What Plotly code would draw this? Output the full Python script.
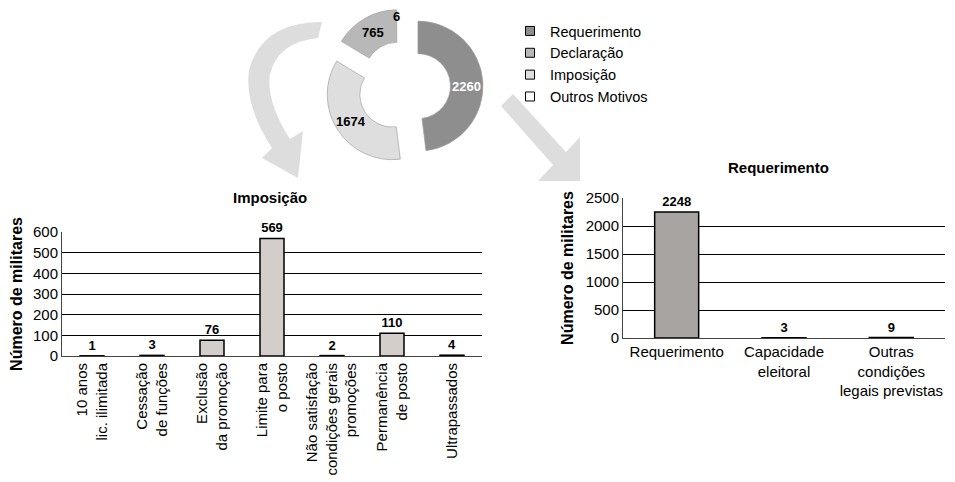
import math
import plotly.graph_objects as go

# page body adds an 8px margin, so the figure is drawn 8px in and 8px smaller
OFF = 8
W, H = 955 - OFF, 482 - OFF
FONT = "Liberation Sans"

# donut: slices in drawing order (clockwise from 12 o'clock)
pie_labels = ["Requerimento", "Imposição", "Declaração", "Outros Motivos"]
pie_values = [2260, 1674, 765, 6]
pie_colors = ["#8e8e8e", "#dedede", "#b8b8b8", "#ffffff"]
pie_textcolors = ["white", "black", "black", "black"]

# legend order as in the reference
legend_labels = ["Requerimento", "Declaração", "Imposição", "Outros Motivos"]
legend_colors = ["#8e8e8e", "#b8b8b8", "#dedede", "#ffffff"]

imp_cats = ["10 anos<br>lic. ilimitada", "Cessação<br>de funções", "Exclusão<br>da promoção",
            "Limite para<br>o posto", "Não satisfação<br>condições gerais<br>promoções",
            "Permanência<br>de posto", "Ultrapassados"]
imp_vals = [1, 3, 76, 569, 2, 110, 4]

req_cats = ["Requerimento", "Capacidade<br>eleitoral", "Outras<br>condições<br>legais previstas"]
req_vals = [2248, 3, 9]


def fx(x):
    return (x - OFF) / W


def fy(y):
    return 1 - (y - OFF) / H


def path(cmds):
    out = ""
    for c in cmds:
        if isinstance(c, str):
            out += c
        else:
            out += "%.4f,%.4f " % (fx(c[0]), fy(c[1]))
    return out + "Z"


def label(text, x, y, size):
    return dict(text=text, x=fx(x), y=fy(y), xref="paper", yref="paper",
                xanchor="center", yanchor="middle", showarrow=False,
                font=dict(family=FONT, size=size, color="black"))


fig = go.Figure()

# decorative arrows
arrow_left = path(["M", (322, 22), "Q", (262, 22), (249, 70), "Q", (244, 105), (272, 148),
                   "L", (262, 158), "L", (298, 178), "L", (303, 131), "L", (290, 139),
                   "Q", (266, 102), (270, 74), "Q", (278, 42), (318, 38)])
arrow_right = path(["M", (513, 94), "L", (566, 152), "L", (580, 137), "L", (580, 181),
                    "L", (538, 181), "L", (553, 165), "L", (501, 106)])
for p in [arrow_left, arrow_right]:
    fig.add_shape(type="path", path=p, xref="paper", yref="paper",
                  fillcolor="#dddddd", line=dict(width=0), layer="below")

# donut geometry (pixels)
pie_x0, pie_x1, pie_y0, pie_y1 = 325, 483, 8, 166
pull, hole = 0.215, 0.5
fig.add_trace(go.Pie(
    labels=pie_labels, values=pie_values, sort=False, direction="clockwise", rotation=0,
    hole=hole, pull=[pull] * 4, showlegend=False,
    marker=dict(colors=pie_colors,
                line=dict(color=["#a0a0a0", "#a0a0a0", "#a0a0a0", "white"], width=0.7)),
    textinfo="value", textposition=["inside", "none", "inside", "none"],
    insidetextorientation="horizontal",
    textfont=dict(family=FONT, size=13, color=pie_textcolors, weight="bold"),
    domain=dict(x=[fx(pie_x0), fx(pie_x1)], y=[fy(pie_y1), fy(pie_y0)]),
))

# label of the Imposição slice at its mid angle (plotly would push it to 9 o'clock)
total = sum(pie_values)
mid = 2 * math.pi * (pie_values[0] + pie_values[1] / 2) / total
cx, cy = (pie_x0 + pie_x1) / 2, (pie_y0 + pie_y1) / 2
R = (pie_y1 - pie_y0) / 2 / (1 + pull)
rr = pull * R + R * (1 + hole) / 2
imp_lx, imp_ly = cx + rr * math.sin(mid), cy - rr * math.cos(mid)

for name, col in zip(legend_labels, legend_colors):
    fig.add_trace(go.Scatter(x=[None], y=[None], mode="markers", name=name,
                             marker=dict(symbol="square", size=9, color=col,
                                         line=dict(color="black", width=1)),
                             xaxis="x", yaxis="y"))

fig.add_trace(go.Bar(
    x=imp_cats, y=imp_vals, text=imp_vals, textposition="outside", cliponaxis=False,
    constraintext="none", showlegend=False, width=0.4,
    textfont=dict(family=FONT, size=13, color="black", weight="bold"),
    marker=dict(color="#d3cec9", line=dict(color="black", width=1.5)),
    xaxis="x", yaxis="y"))

fig.add_trace(go.Bar(
    x=req_cats, y=req_vals, text=req_vals, textposition="outside", cliponaxis=False,
    constraintext="none", showlegend=False, width=0.41,
    textfont=dict(family=FONT, size=13, color="black", weight="bold"),
    marker=dict(color="#a8a4a1", line=dict(color="black", width=1.5)),
    xaxis="x2", yaxis="y2"))

axis_common = dict(showline=True, linecolor="#444444", linewidth=1, ticks="",
                   automargin=False, tickfont=dict(family=FONT, size=15, color="black"))
ytitle = dict(text="<b>Número de militares</b>", standoff=8, font=dict(family=FONT, size=16))

fig.update_layout(
    width=W, height=H,
    margin=dict(l=0, r=0, t=0, b=0, autoexpand=False),
    paper_bgcolor="white", plot_bgcolor="white",
    font=dict(family=FONT, color="black"),
    xaxis=dict(domain=[fx(62), fx(482)], anchor="y", type="category", tickangle=-90,
               **axis_common),
    yaxis=dict(domain=[fy(356), fy(232)], anchor="x", range=[0, 600], dtick=100,
               gridcolor="black", gridwidth=1, zeroline=False, title=ytitle, **axis_common),
    xaxis2=dict(domain=[fx(623), fx(945)], anchor="y2", type="category", tickangle=0,
                **axis_common),
    yaxis2=dict(domain=[fy(338), fy(198)], anchor="x2", range=[0, 2500], dtick=500,
                gridcolor="black", gridwidth=1, zeroline=False, title=ytitle, **axis_common),
    legend=dict(x=fx(510), y=fy(15), xanchor="left", yanchor="top",
                font=dict(family=FONT, size=14.5), bgcolor="rgba(0,0,0,0)",
                tracegroupgap=0, itemclick=False),
    annotations=[
        label("<b>Imposição</b>", 270, 197, 15),
        label("<b>Requerimento</b>", 778, 167, 15),
        label("<b>%d</b>" % pie_values[1], imp_lx, imp_ly, 13),
        # label of the tiny "Outros Motivos" slice, beside the ring top
        label("<b>%d</b>" % pie_values[3], 396, 17, 13),
    ],
)

fig.write_html("out.html")
